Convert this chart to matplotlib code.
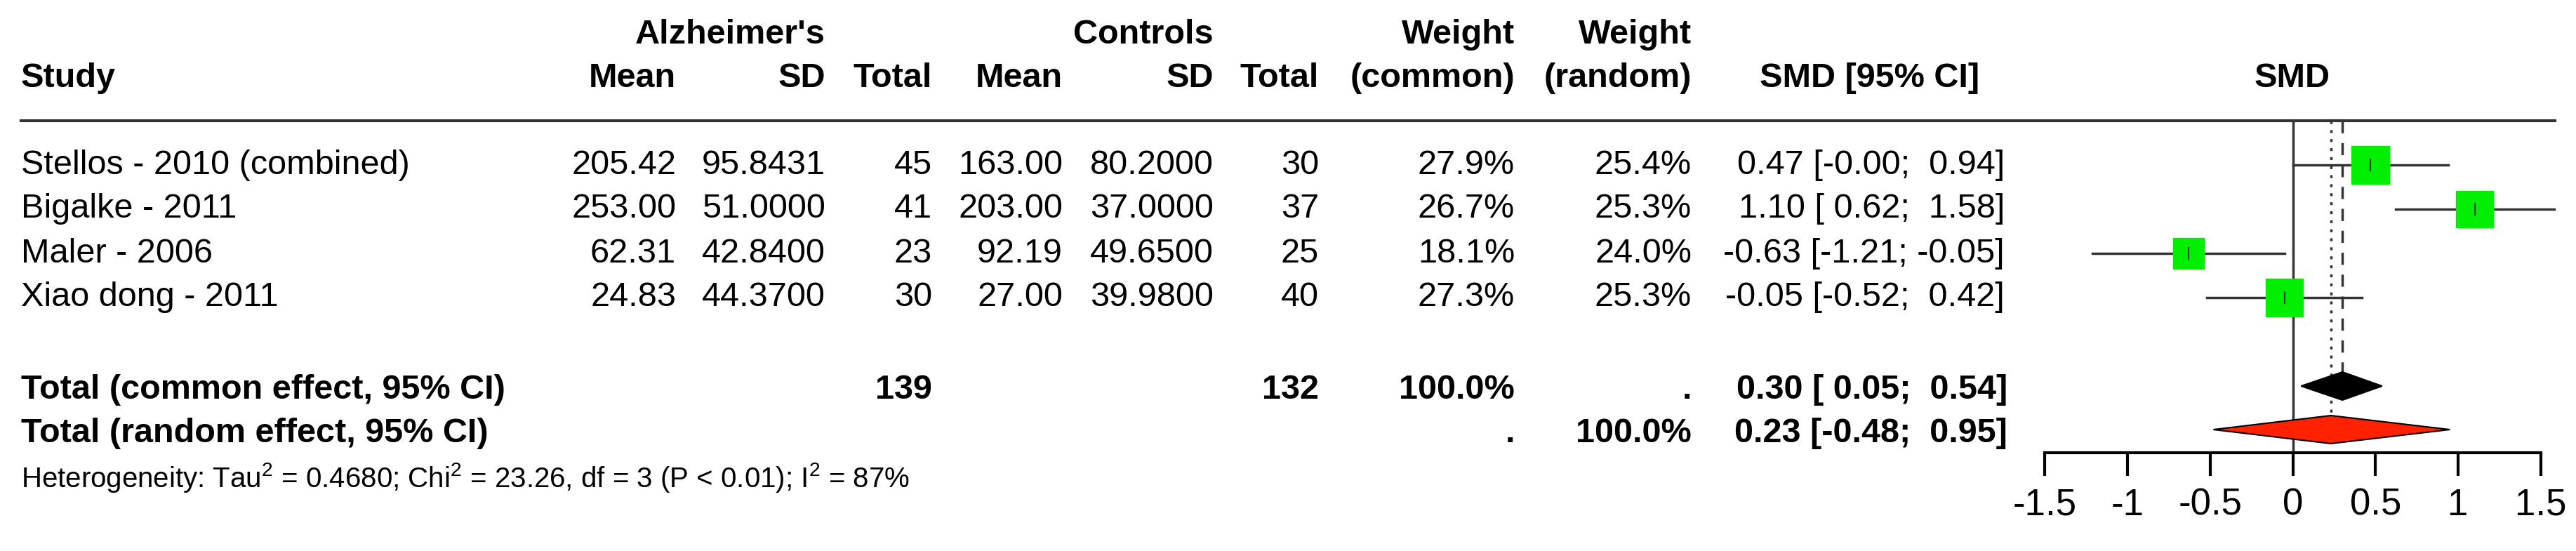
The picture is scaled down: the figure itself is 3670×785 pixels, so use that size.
import matplotlib
matplotlib.use("Agg")
import matplotlib.pyplot as plt
from matplotlib.patches import Rectangle, Polygon
import numpy as np

plt.rcParams['font.family'] = ['Liberation Sans', 'DejaVu Sans']
plt.rcParams['mathtext.fontset'] = 'custom'
plt.rcParams['mathtext.rm'] = 'Liberation Sans'

# data
studies = ['Stellos - 2010 (combined)', 'Bigalke - 2011', 'Maler - 2006', 'Xiao dong - 2011']
ad_mean = ['205.42', '253.00', '62.31', '24.83']
ad_sd = ['95.8431', '51.0000', '42.8400', '44.3700']
ad_n = ['45', '41', '23', '30']
ct_mean = ['163.00', '203.00', '92.19', '27.00']
ct_sd = ['80.2000', '37.0000', '49.6500', '39.9800']
ct_n = ['30', '37', '25', '40']
w_common = [27.9, 26.7, 18.1, 27.3]
w_random = [25.4, 25.3, 24.0, 25.3]
smd = [0.47, 1.10, -0.63, -0.05]
lo = [-0.00, 0.62, -1.21, -0.52]
hi = [0.94, 1.58, -0.05, 0.42]
ci_txt = ['0.47 [-0.00;  0.94]', '1.10 [ 0.62;  1.58]', '-0.63 [-1.21; -0.05]', '-0.05 [-0.52;  0.42]']
common = (0.30, 0.05, 0.54)
random_ = (0.23, -0.48, 0.95)
ticks = [-1.5, -1, -0.5, 0, 0.5, 1, 1.5]

W, H = 3670, 785
fig = plt.figure(figsize=(W / 100, H / 100), dpi=100)
tx = fig.add_axes([0, 0, 1, 1])
tx.set_xlim(0, W)
tx.set_ylim(H, 0)
tx.axis('off')

fs = 35
row_y = [235, 298, 361, 424]
y_common, y_random = 555, 617
hdr1, hdr2 = 50, 112


def t(x, y, s, ha='right', bold=False, size=fs):
    tx.text(x, y, s, ha=ha, va='center', fontsize=size,
            fontweight='bold' if bold else 'normal')


# headers
t(1176, hdr1, "Alzheimer's", bold=True)
t(1729, hdr1, 'Controls', bold=True)
t(2158, hdr1, 'Weight', bold=True)
t(2410, hdr1, 'Weight', bold=True)
t(30, hdr2, 'Study', ha='left', bold=True)
for x, s in [(963, 'Mean'), (1176, 'SD'), (1328, 'Total'), (1514, 'Mean'),
             (1729, 'SD'), (1879, 'Total'), (2158, '(common)'), (2410, '(random)'),
             (2820, 'SMD [95% CI]')]:
    t(x, hdr2, s, bold=True)
tx.text(3266, hdr2, 'SMD', ha='center', va='center', fontsize=fs, fontweight='bold')
tx.plot([30, 3640], [172, 172], color='#333333', lw=3)

for i, y in enumerate(row_y):
    t(30, y, studies[i], ha='left')
    t(963, y, ad_mean[i]); t(1176, y, ad_sd[i]); t(1328, y, ad_n[i])
    t(1514, y, ct_mean[i]); t(1729, y, ct_sd[i]); t(1879, y, ct_n[i])
    t(2158, y, '%.1f%%' % w_common[i]); t(2410, y, '%.1f%%' % w_random[i])
    t(2856, y, ci_txt[i])

t(30, y_common, 'Total (common effect, 95% CI)', ha='left', bold=True)
t(1328, y_common, str(sum(int(n) for n in ad_n)), bold=True)
t(1879, y_common, str(sum(int(n) for n in ct_n)), bold=True)
t(2158, y_common, '100.0%', bold=True)
t(2410, y_common, '.', bold=True)
t(2860, y_common, '%.2f [ %.2f;  %.2f]' % common, bold=True)
t(30, y_random, 'Total (random effect, 95% CI)', ha='left', bold=True)
t(2158, y_random, '.', bold=True)
t(2410, y_random, '100.0%', bold=True)
t(2860, y_random, '%.2f [%.2f;  %.2f]' % random_, bold=True)
tx.text(30, 680, r'Heterogeneity: Tau$^2$ = 0.4680; Chi$^2$ = 23.26, df = 3 (P < 0.01); I$^2$ = 87%',
        ha='left', va='center', fontsize=29)

# forest plot axes: x in SMD units, y in pixels
x0, x1 = 2913, 3620
fx = fig.add_axes([x0 / W, 0, (x1 - x0) / W, 1])
fx.set_xlim(-1.5, 1.5)
fx.set_ylim(H, 0)
fx.patch.set_alpha(0)
for s in ['top', 'left', 'right']:
    fx.spines[s].set_visible(False)
fx.spines['bottom'].set_position(('data', 645))
fx.spines['bottom'].set_linewidth(3)
fx.set_yticks([])
fx.set_xticks(ticks)
fx.set_xticklabels(['%g' % v for v in ticks])
fx.tick_params(axis='x', length=24, width=3, labelsize=38, pad=12)
ppu = (x1 - x0) / 3.0

fx.plot([0, 0], [172, 645], color='#333333', lw=2.5)
fx.plot([common[0]] * 2, [172, 530], color='#333333', lw=2.5, ls=(0, (5, 4)))
fx.plot([random_[0]] * 2, [172, 612], color='#333333', lw=2.5, ls=(0, (1.2, 2.5)))

for i, y in enumerate(row_y):
    fx.plot([lo[i], min(hi[i], 1.6)], [y, y], color='#333333', lw=2.5, clip_on=False)
    side = 54 * np.sqrt(w_common[i] / max(w_common))
    fx.add_patch(Rectangle((smd[i] - side / 2 / ppu, y - side / 2), side / ppu, side,
                           color='#00ee00', zorder=3))
    fx.plot([smd[i]] * 2, [y - 8, y + 8], color='#333333', lw=1.5, zorder=4)

for (e, l, h), y, c in [(common, 550, 'black'), (random_, 612, '#ff2200')]:
    fx.add_patch(Polygon([(l, y), (e, y - 20), (h, y), (e, y + 20)],
                         facecolor=c, edgecolor='black', lw=1.5, zorder=3))

fig.savefig('out.png', dpi=100)
